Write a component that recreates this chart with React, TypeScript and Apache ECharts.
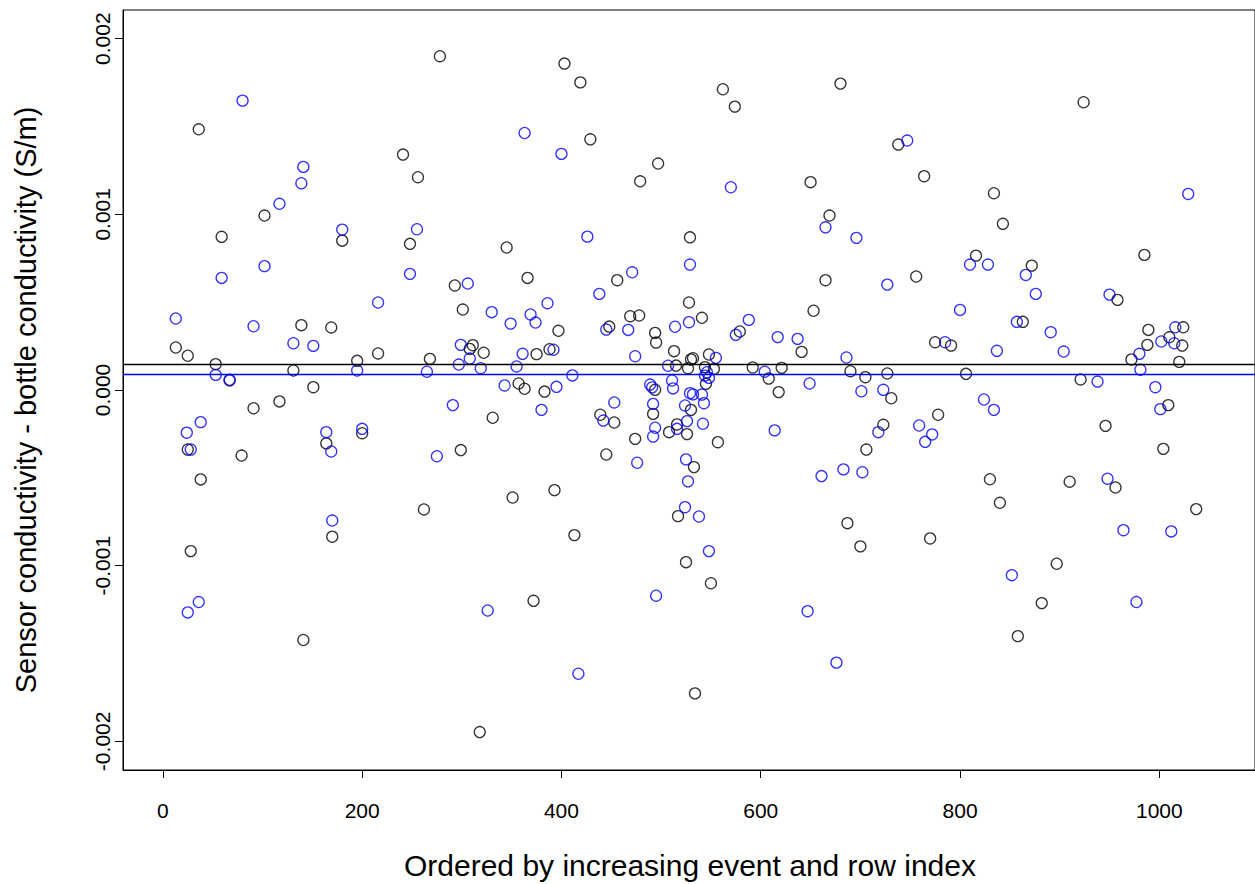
import React, { useEffect, useRef } from "react";
import * as echarts from "echarts";

// Tick positions
const xTicks = [0, 200, 400, 600, 800, 1000];
const yTicks = [-0.002, -0.001, 0, 0.001, 0.002];

// Primary sensor (black): ordered index and sensor - bottle conductivity (S/m)
const primaryIndex = [
  13, 25, 25, 28, 36, 38, 53, 59, 67, 79, 91, 102, 117, 131, 139, 141, 151, 169, 164, 170,
  180, 195, 200, 216, 241, 248, 256, 262, 268, 278, 293, 299, 301, 308, 311, 318, 322, 331, 345, 351,
  357, 363, 366, 372, 375, 383, 388, 393, 397, 403, 413, 419, 429, 439, 445, 448, 453, 456, 469, 474,
  478, 479, 494, 494, 492, 495, 497, 508, 513, 515, 516, 517, 525, 526, 527, 528, 529, 530, 530, 533,
  534, 532, 541, 544, 545, 548, 553, 550, 557, 562, 574, 579, 592, 608, 618, 621, 641, 650, 653, 665,
  669, 680, 687, 690, 700, 705, 706, 723, 727, 731, 738, 756, 764, 770, 775, 778, 791, 806, 816, 830,
  834, 840, 843, 858, 863, 872, 882, 897, 910, 921, 924, 946, 956, 958, 972, 985, 988, 989, 1004, 1009,
  1010, 1020, 1023, 1024, 1037,
];
const primaryDiff = [
  0.000242, 0.000195, -0.000339, -0.000917, 0.001484, -0.000509, 0.000147, 0.000872, 0.000058, -0.000373,
  -0.000104, 0.000993, -0.000065, 0.000111, 0.000369, -0.001423, 0.000016, 0.000356, -0.000304, -0.000835,
  0.00085, 0.000166, -0.000246, 0.000208, 0.00134, 0.000832, 0.001211, -0.00068, 0.000177, 0.0019,
  0.000595, -0.000342, 0.000458, 0.000234, 0.000255, -0.001947, 0.000212, -0.000158, 0.000811, -0.000612,
  0.000037, 0.000007, 0.000638, -0.0012, 0.000204, -0.000009, 0.000232, -0.00057, 0.000337, 0.001858,
  -0.000826, 0.001751, 0.001427, -0.000141, -0.000367, 0.000361, -0.000185, 0.000625, 0.00042, -0.000278,
  0.000424, 0.001188, 0.000325, 0.000001, -0.000136, 0.00027, 0.001289, -0.00024, 0.000221, 0.000139,
  -0.000196, -0.000718, -0.00098, -0.000251, 0.000124, 0.000498, 0.000869, 0.000174, -0.000113, -0.000439,
  -0.001727, 0.000181, 0.000411, 0.00013, 0.000035, 0.000202, 0.00012, -0.0011, -0.000297, 0.001712,
  0.001613, 0.000333, 0.000128, 0.000065, -0.000012, 0.000126, 0.000217, 0.001183, 0.000451, 0.000625,
  0.000993, 0.001744, -0.000758, 0.000107, -0.00089, 0.000073, -0.000339, -0.000198, 0.000094, -0.000047,
  0.001397, 0.000646, 0.001217, -0.000845, 0.000272, -0.000141, 0.000253, 0.000092, 0.000765, -0.000508,
  0.00112, -0.000642, 0.000946, -0.001401, 0.000388, 0.000708, -0.001213, -0.000989, -0.000522, 0.00006,
  0.001638, -0.000204, -0.000555, 0.000513, 0.000174, 0.000769, 0.000257, 0.000342, -0.000335, -0.000086,
  0.0003, 0.00016, 0.000253, 0.000357, -0.000678,
];

// Secondary sensor (blue)
const secondaryIndex = [
  13, 24, 28, 25, 36, 38, 53, 59, 67, 80, 91, 102, 117, 131, 139, 141, 151, 164, 169, 170,
  180, 195, 200, 216, 248, 255, 265, 275, 291, 297, 299, 306, 308, 319, 326, 330, 343, 349, 355, 361,
  363, 369, 374, 380, 386, 392, 395, 400, 411, 417, 426, 438, 442, 445, 453, 467, 471, 474, 476, 489,
  491, 492, 494, 492, 495, 507, 511, 512, 514, 516, 524, 525, 524, 526, 527, 528, 529, 529, 532, 538,
  541, 542, 543, 546, 544, 548, 548, 555, 570, 575, 588, 604, 614, 617, 637, 647, 649, 661, 665, 676,
  683, 686, 696, 701, 702, 718, 723, 727, 747, 759, 765, 772, 785, 800, 810, 824, 828, 834, 837, 852,
  857, 866, 876, 891, 904, 938, 948, 950, 964, 977, 980, 981, 996, 1001, 1002, 1012, 1015, 1016, 1029,
];
const secondaryDiff = [
  0.000407, -0.000243, -0.000339, -0.001266, -0.001207, -0.000183, 0.000086, 0.000638, 0.000054, 0.001647,
  0.000363, 0.000705, 0.00106, 0.000266, 0.001177, 0.00127, 0.000251, -0.00024, -0.00035, -0.000743,
  0.000913, 0.000111, -0.000221, 0.000498, 0.000661, 0.000915, 0.000104, -0.000377, -0.000086, 0.000145,
  0.000257, 0.000606, 0.000179, 0.000124, -0.001255, 0.000443, 0.000026, 0.000378, 0.000134, 0.000206,
  0.001463, 0.00043, 0.000384, -0.000113, 0.000494, 0.000229, 0.000018, 0.001344, 0.000083, -0.001615,
  0.000873, 0.000547, -0.000174, 0.000344, -0.000071, 0.000342, 0.00067, 0.000192, -0.000414, 0.000031,
  0.000015, -0.000079, -0.000215, -0.000265, -0.001171, 0.000138, 0.000054, 0.000009, 0.00036, -0.000221,
  -0.000088, -0.000395, -0.000667, -0.000177, -0.00052, 0.000386, 0.000714, -0.000018, -0.000025, -0.00072,
  -0.000026, -0.000192, -0.000075, 0.000101, 0.000082, 0.000069, -0.000917, 0.000183, 0.001154, 0.000314,
  0.000399, 0.000104, -0.00023, 0.000301, 0.000291, -0.001259, 0.000037, -0.00049, 0.000926, -0.001552,
  -0.000452, 0.000185, 0.000866, -0.000007, -0.000468, -0.00024, 0.000001, 0.0006, 0.00142, -0.000202,
  -0.000295, -0.000253, 0.000272, 0.000456, 0.000714, -0.000054, 0.000714, -0.000113, 0.000223, -0.001054,
  0.000388, 0.000655, 0.000547, 0.000329, 0.000219, 0.000048, -0.000505, 0.000543, -0.000798, -0.001207,
  0.000206, 0.000115, 0.000016, -0.000109, 0.000276, -0.000805, 0.000266, 0.000357, 0.001116,
];

// Mean offsets drawn as horizontal reference lines
const primaryMean = 0.000149;
const secondaryMean = 0.00009;

const FONT = "'Liberation Sans', Arial, sans-serif";

export default function App() {
  const ref = useRef<HTMLDivElement>(null);

  useEffect(() => {
    if (!ref.current) return;
    const chart = echarts.init(ref.current, undefined, { renderer: "svg" });

    const axisCommon = {
      axisLine: { show: true, onZero: false, lineStyle: { color: "#000", width: 1 } },
      splitLine: { show: false },
    };

    const meanLine = (value: number, color: string) => ({
      silent: true,
      precision: 8,
      symbol: ["none", "none"],
      label: { show: false },
      lineStyle: { color, width: 1.3, type: "solid" },
      data: [{ yAxis: value }],
    });

    chart.setOption({
      animation: false,
      backgroundColor: "#fff",
      grid: {
        left: 123,
        top: 10,
        width: 1136,
        height: 760,
        show: true,
        borderColor: "#000",
        borderWidth: 1,
        backgroundColor: "transparent",
      },
      xAxis: {
        type: "value",
        min: -40,
        max: 1096,
        ...axisCommon,
        axisTick: { show: true, length: 8, customValues: xTicks, lineStyle: { color: "#000" } },
        axisLabel: {
          customValues: xTicks,
          margin: 30,
          color: "#000",
          fontSize: 21,
          fontFamily: FONT,
          formatter: (v: number) => String(v),
        },
      },
      yAxis: {
        type: "value",
        min: -0.002163,
        max: 0.002163,
        ...axisCommon,
        axisTick: { show: true, length: 8, customValues: yTicks, lineStyle: { color: "#000" } },
        axisLabel: {
          customValues: yTicks,
          rotate: 90,
          margin: 10,
          color: "#000",
          fontSize: 21,
          fontFamily: FONT,
          formatter: (v: number) => v.toFixed(3),
        },
      },
      graphic: [
        {
          type: "text",
          x: 690,
          y: 865,
          style: {
            text: "Ordered by increasing event and row index",
            fill: "#000",
            font: `30px ${FONT}`,
            align: "center",
            verticalAlign: "middle",
          },
        },
        {
          type: "text",
          x: 26,
          y: 400,
          rotation: Math.PI / 2,
          style: {
            text: "Sensor conductivity - bottle conductivity (S/m)",
            fill: "#000",
            font: `29px ${FONT}`,
            align: "center",
            verticalAlign: "middle",
          },
        },
      ],
      series: [
        {
          type: "scatter",
          name: "primary",
          symbol: "circle",
          symbolSize: 11,
          z: 2,
          itemStyle: { color: "rgba(0,0,0,0)", borderColor: "#000", borderWidth: 1.3 },
          data: primaryIndex.map((x, i) => [x, primaryDiff[i]]),
          markLine: meanLine(primaryMean, "#000"),
        },
        {
          type: "scatter",
          name: "secondary",
          symbol: "circle",
          symbolSize: 11,
          z: 3,
          itemStyle: { color: "rgba(0,0,0,0)", borderColor: "#0000ff", borderWidth: 1.3 },
          data: secondaryIndex.map((x, i) => [x, secondaryDiff[i]]),
          markLine: meanLine(secondaryMean, "#0000ff"),
        },
      ],
    });

    return () => chart.dispose();
  }, []);

  return (
    <div
      ref={ref}
      style={{ position: "absolute", left: 0, top: 0, width: 1255, height: 884 }}
    />
  );
}
